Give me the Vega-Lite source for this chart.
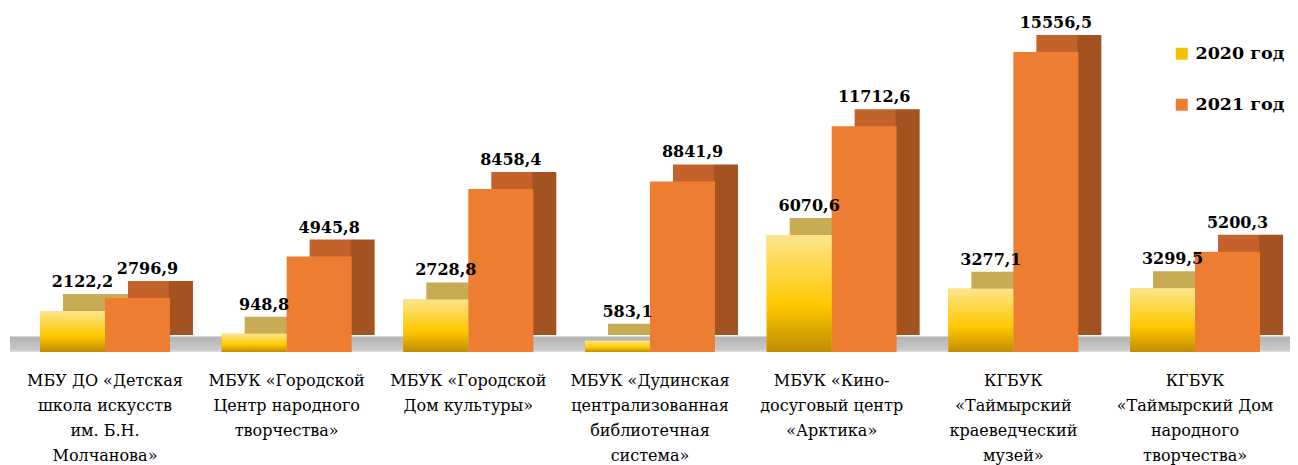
{
  "$schema": "https://vega.github.io/schema/vega-lite/v6.json",
  "width": 1280,
  "height": 352,
  "autosize": "none",
  "padding": {"left": 10, "top": 0, "right": 8, "bottom": 113},
  "background": "white",
  "config": {
    "view": {"stroke": null},
    "locale": {"number": {"decimal": ",", "thousands": "", "grouping": [3], "currency": ["", ""]}}
  },
  "data": {
    "values": [
      {"org": "МБУ ДО «Детская\nшкола искусств\nим. Б.Н.\nМолчанова»", "year": "2020 год", "value": 2122.2},
      {"org": "МБУ ДО «Детская\nшкола искусств\nим. Б.Н.\nМолчанова»", "year": "2021 год", "value": 2796.9},
      {"org": "МБУК «Городской\nЦентр народного\nтворчества»", "year": "2020 год", "value": 948.8},
      {"org": "МБУК «Городской\nЦентр народного\nтворчества»", "year": "2021 год", "value": 4945.8},
      {"org": "МБУК «Городской\nДом культуры»", "year": "2020 год", "value": 2728.8},
      {"org": "МБУК «Городской\nДом культуры»", "year": "2021 год", "value": 8458.4},
      {"org": "МБУК «Дудинская\nцентрализованная\nбиблиотечная\nсистема»", "year": "2020 год", "value": 583.1},
      {"org": "МБУК «Дудинская\nцентрализованная\nбиблиотечная\nсистема»", "year": "2021 год", "value": 8841.9},
      {"org": "МБУК «Кино-\nдосуговый центр\n«Арктика»", "year": "2020 год", "value": 6070.6},
      {"org": "МБУК «Кино-\nдосуговый центр\n«Арктика»", "year": "2021 год", "value": 11712.6},
      {"org": "КГБУК\n«Таймырский\nкраеведческий\nмузей»", "year": "2020 год", "value": 3277.1},
      {"org": "КГБУК\n«Таймырский\nкраеведческий\nмузей»", "year": "2021 год", "value": 15556.5},
      {"org": "КГБУК\n«Таймырский Дом\nнародного\nтворчества»", "year": "2020 год", "value": 3299.5},
      {"org": "КГБУК\n«Таймырский Дом\nнародного\nтворчества»", "year": "2021 год", "value": 5200.3}
    ]
  },
  "layer": [
    {
      "transform": [{"aggregate": [{"op": "count", "as": "n"}]}],
      "mark": {
        "type": "rect",
        "fill": {"gradient": "linear", "x1": 0, "y1": 0, "x2": 0, "y2": 1,
          "stops": [{"offset": 0, "color": "#b4b4b4"}, {"offset": 0.85, "color": "#c8c8c8"}, {"offset": 1, "color": "#e4e4e4"}]}
      },
      "encoding": {
        "y": {"datum": 0, "type": "quantitative", "scale": {"domain": [0, 18253], "nice": false, "zero": true}, "axis": null},
        "y2": {"datum": 800}
      }
    },
    {
      "encoding": {
        "x": {
          "field": "org", "type": "nominal", "sort": null,
          "scale": {"paddingInner": 0.2845, "paddingOuter": 0.165},
          "axis": {
            "labelExpr": "split(datum.label, '\\n')",
            "labelFont": "DejaVu Serif", "labelFontSize": 16, "labelLineHeight": 25,
            "labelColor": "#000000", "labelPadding": 20, "labelBaseline": "top",
            "domain": false, "ticks": false, "labelAngle": 0, "labelLimit": 0, "title": null
          }
        },
        "y": {"field": "value", "type": "quantitative", "axis": null}
      },
      "layer": [
        {
          "transform": [{"filter": "datum.year === '2020 год'"}],
          "mark": {"type": "bar", "width": {"band": 0.5}, "xOffset": -9.5, "yOffset": -17, "y2Offset": -17, "fill": "#c9aa55"}
        },
        {
          "transform": [{"filter": "datum.year === '2021 год'"}],
          "mark": {"type": "bar", "width": {"band": 0.5}, "xOffset": 55.5, "yOffset": -17, "y2Offset": -17,
            "fill": {"gradient": "linear", "x1": 0, "y1": 0, "x2": 1, "y2": 0,
              "stops": [{"offset": 0, "color": "#c4622c"}, {"offset": 0.62, "color": "#c4622c"}, {"offset": 0.64, "color": "#a3531f"}, {"offset": 1, "color": "#a3531f"}]}}
        },
        {
          "mark": {"type": "bar"},
          "encoding": {
            "xOffset": {"field": "year", "type": "nominal", "scale": {"domain": ["2020 год", "2021 год"], "paddingInner": 0, "paddingOuter": 0}},
            "color": {
              "field": "year", "type": "nominal",
              "scale": {"domain": ["2020 год", "2021 год"], "range": ["#f5c000", "#ed7d31"]},
              "legend": {
                "title": null, "orient": "none", "legendX": 1163, "legendY": 45,
                "symbolType": "square", "symbolSize": 144, "symbolStrokeWidth": 0,
                "labelFont": "DejaVu Serif", "labelFontSize": 17.5, "labelFontWeight": "bold",
                "labelColor": "#000000", "rowPadding": 32, "labelOffset": 5
              }
            }
          }
        },
        {
          "transform": [{"filter": "datum.year === '2020 год'"}],
          "mark": {"type": "bar",
            "fill": {"gradient": "linear", "x1": 0, "y1": 0, "x2": 0, "y2": 1,
              "stops": [{"offset": 0, "color": "#fde58c"}, {"offset": 0.6, "color": "#ffc800"}, {"offset": 1, "color": "#c08c00"}]}},
          "encoding": {
            "xOffset": {"field": "year", "type": "nominal", "scale": {"domain": ["2020 год", "2021 год"], "paddingInner": 0, "paddingOuter": 0}}
          }
        },
        {
          "mark": {"type": "text", "font": "DejaVu Serif", "fontSize": 16, "fontWeight": "bold", "color": "#000000", "dx": 10, "dy": -24, "baseline": "alphabetic", "align": "center"},
          "encoding": {
            "xOffset": {"field": "year", "type": "nominal", "scale": {"domain": ["2020 год", "2021 год"], "paddingInner": 0, "paddingOuter": 0}},
            "text": {"field": "value", "type": "quantitative", "format": ".1f"}
          }
        }
      ]
    }
  ]
}
